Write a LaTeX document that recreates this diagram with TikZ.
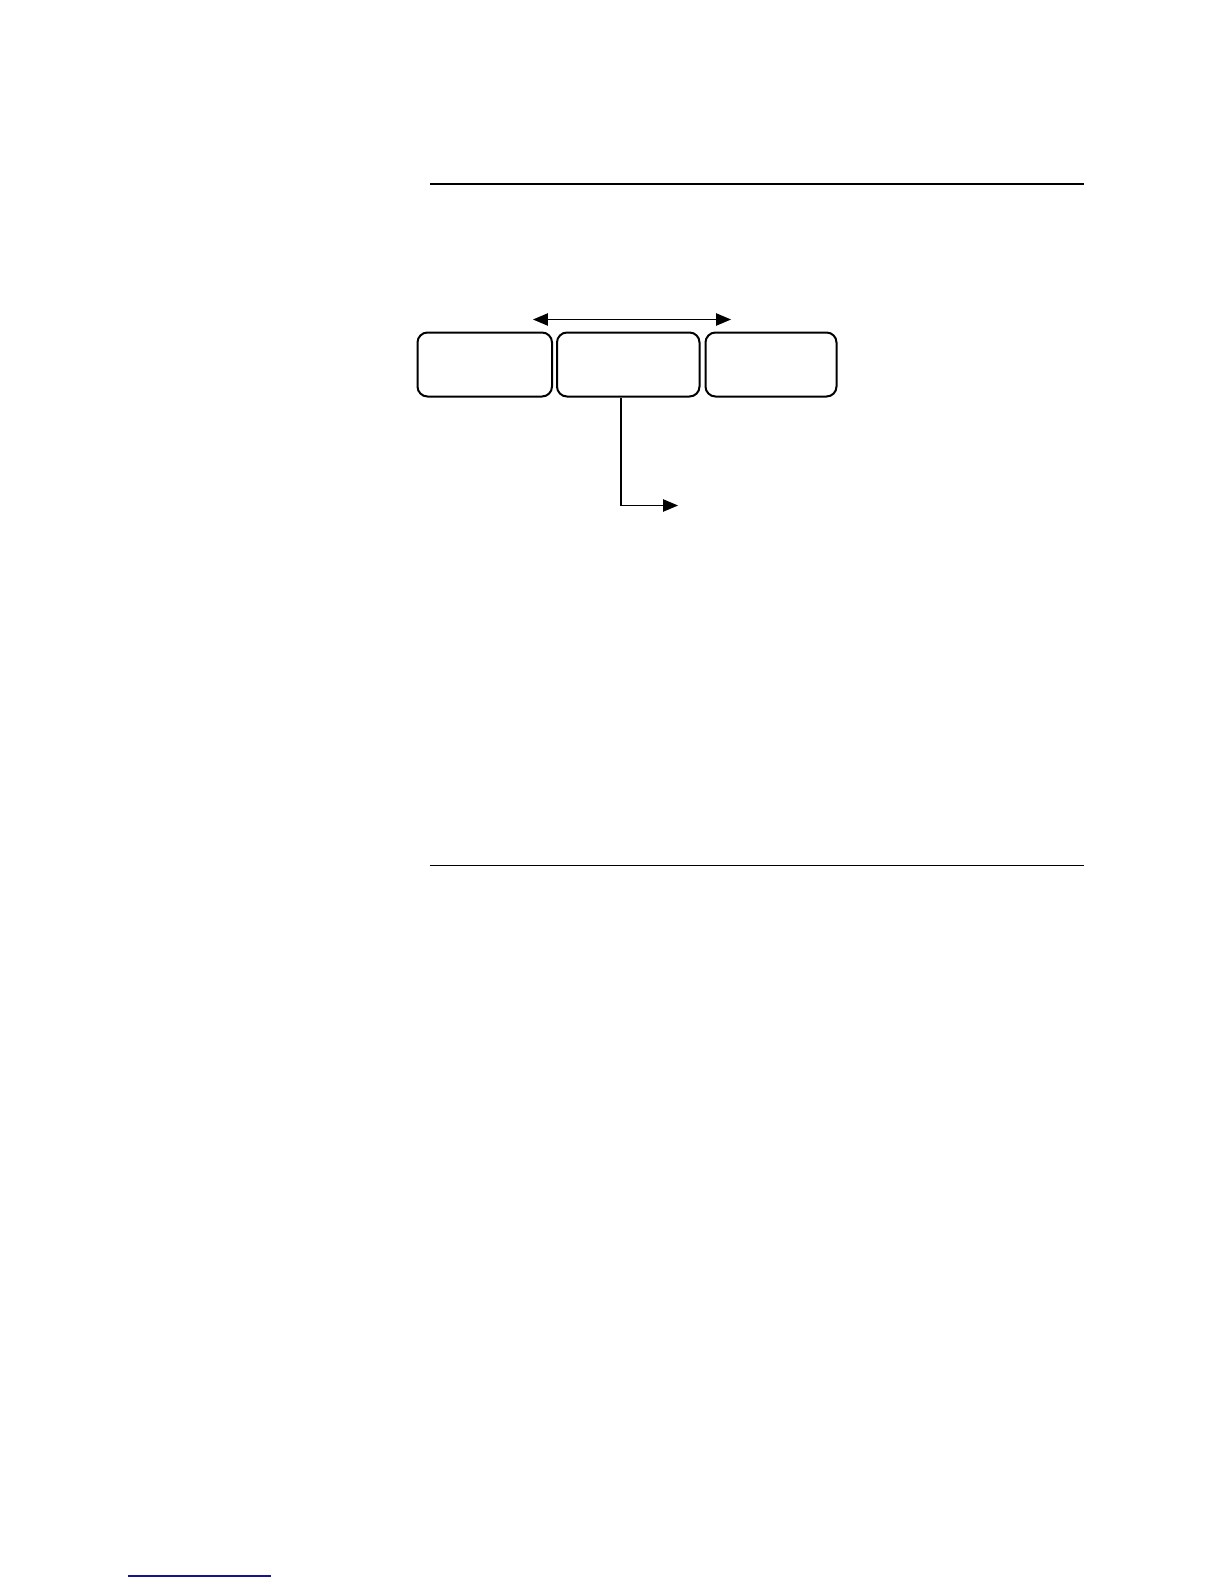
\documentclass[tikz,border=0pt]{standalone}
\usepackage{xcolor}
\usepackage{tikz}
\usetikzlibrary{shapes,arrows,positioning,calc}

\definecolor{linkblue}{RGB}{20,20,140}

\tikzset{
    stage/.style={draw, line width=1pt, rounded corners=5pt, inner sep=0pt, minimum height=32pt},
    rule/.style={line width=0.6pt}
}

\begin{document}
\begin{tikzpicture}[x=0.5pt, y=-0.5pt, >=triangle 45]
    \useasboundingbox (0,0) rectangle (1224,1584);

    % Page rules
    \draw[line width=1.3pt] (430,184) -- (1084,184);
    \draw[rule] (430,865.5) -- (1084,865.5);

    % Stages
    \node[stage, minimum width=67.25pt] (left) at (484.75,364.5) {};
    \node[stage, minimum width=71.25pt, right=1.5pt of left] (middle) {};
    \node[stage, minimum width=65.5pt, right=2pt of middle] (right) {};

    % Exchange arrow
    \coordinate (xa) at (533,319.5);
    \coordinate (xb) at (731,319.5);
    \draw[<->, line width=0.7pt] (xa) -- (xb);

    % Output branch
    \coordinate (elbow) at (621,505.5);
    \coordinate (out) at (678,505.5);
    \draw[->, line width=0.7pt] (middle.south -| elbow) -- (elbow) -- (out);

    % Footnote rule
    \draw[linkblue, line width=0.6pt] (128,1576) -- (271,1576);
\end{tikzpicture}
\end{document}
